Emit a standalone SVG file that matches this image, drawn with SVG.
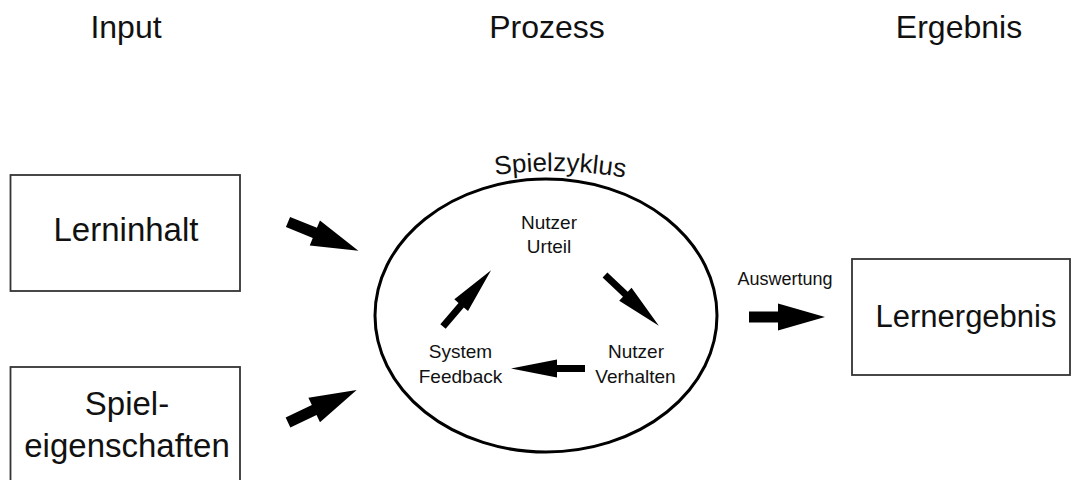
<svg xmlns="http://www.w3.org/2000/svg" xmlns:xlink="http://www.w3.org/1999/xlink" width="1072" height="480" viewBox="0 0 1072 480">
<style>
text { font-family: "Liberation Sans", Arial, sans-serif; fill: #111; }
.hdr { font-size: 32px; text-anchor: middle; }
.box { fill: none; stroke: #333; stroke-width: 1.8; }
.big { font-size: 33px; text-anchor: middle; }
.sm { font-size: 19px; text-anchor: middle; }
.arr { fill: #000; }
</style>
<defs>
<path id="bigArrow" d="M0,-5.5 L29,-5.5 L29,-13.5 L76,0 L29,13.5 L29,5.5 L0,5.5 Z"/>
<path id="smallArrow" d="M0,-3.5 L28,-3.5 L28,-9 L74,0 L28,9 L28,3.5 L0,3.5 Z"/>
<path id="arcPath" d="M 478 178 Q 558 163 642 181"/>
</defs>
<rect width="1072" height="480" fill="#fff"/>

<g id="headers">
<text class="hdr" x="126" y="38">Input</text>
<text class="hdr" x="547" y="38">Prozess</text>
<text class="hdr" x="959" y="38">Ergebnis</text>
</g>

<g id="lerninhalt">
<rect class="box" x="10.5" y="175" width="229.5" height="116"/>
<text class="big" x="126" y="241">Lerninhalt</text>
</g>

<g id="spieleigenschaften">
<rect class="box" x="10.5" y="367" width="229.5" height="130"/>
<text class="big" x="127" y="415">Spiel-</text>
<text class="big" x="127" y="457">eigenschaften</text>
</g>

<g id="spielzyklus">
<ellipse cx="546" cy="315.5" rx="171" ry="136.5" fill="none" stroke="#000" stroke-width="3"/>
<text style="font-size:26px"><textPath xlink:href="#arcPath" href="#arcPath" startOffset="50%" text-anchor="middle">Spielzyklus</textPath></text>
</g>

<g id="nutzer-urteil">
<text class="sm" x="549" y="229">Nutzer</text>
<text class="sm" x="549" y="253">Urteil</text>
</g>

<g id="nutzer-verhalten">
<text class="sm" x="636" y="358">Nutzer</text>
<text class="sm" x="635.5" y="383">Verhalten</text>
</g>

<g id="system-feedback">
<text class="sm" x="460.5" y="358">System</text>
<text class="sm" x="460.5" y="383">Feedback</text>
</g>

<g id="lernergebnis">
<rect class="box" x="852" y="259" width="218" height="116"/>
<text class="big" x="966" y="327" style="font-size:31px">Lernergebnis</text>
</g>

<g id="connectors">
<use class="arr" href="#bigArrow" xlink:href="#bigArrow" transform="translate(288,222) rotate(22.2)"/>
<use class="arr" href="#bigArrow" xlink:href="#bigArrow" transform="translate(288,422.5) rotate(-25.4)"/>
<use class="arr" href="#bigArrow" xlink:href="#bigArrow" transform="translate(749,317)"/>
<use class="arr" href="#smallArrow" xlink:href="#smallArrow" transform="translate(443,326.5) rotate(-49.5)"/>
<use class="arr" href="#smallArrow" xlink:href="#smallArrow" transform="translate(605,275) rotate(43.3)"/>
<use class="arr" href="#smallArrow" xlink:href="#smallArrow" transform="translate(585,368.5) rotate(180)"/>
<text x="785" y="285" style="font-size:18px;text-anchor:middle">Auswertung</text>
</g>
</svg>
